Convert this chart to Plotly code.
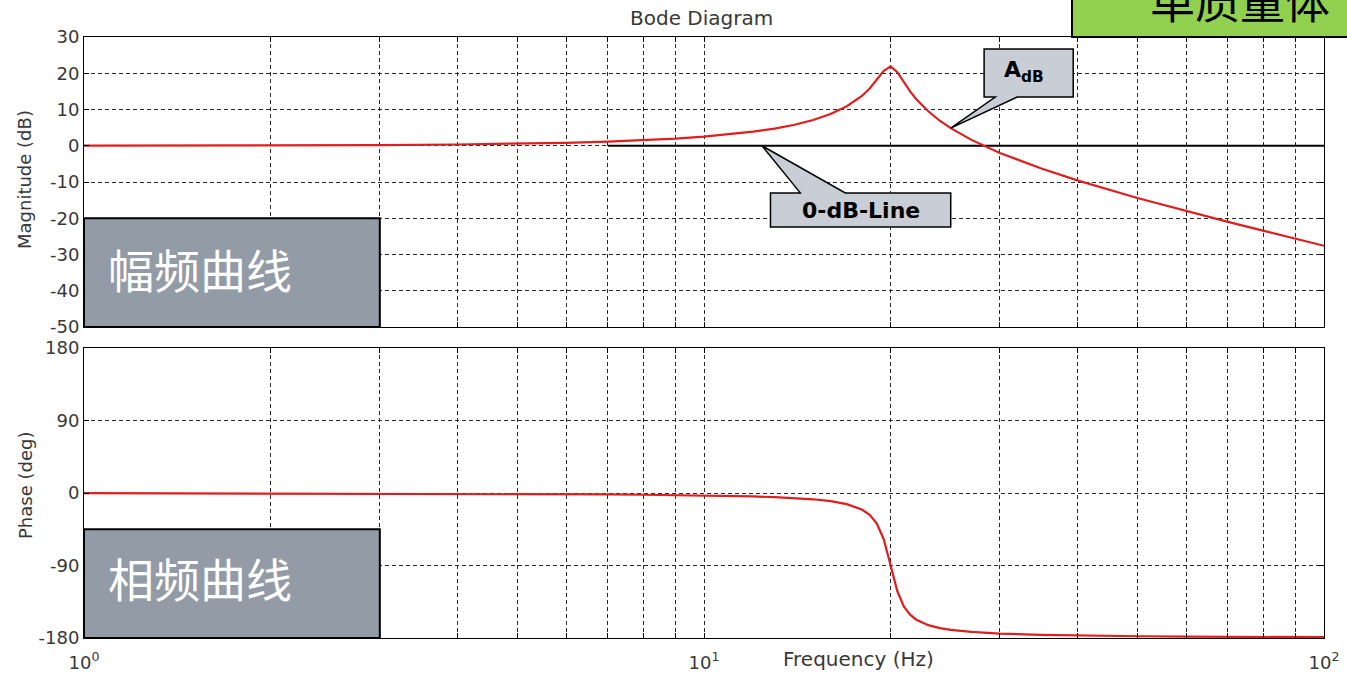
import math
import plotly.graph_objects as go

# Frequency response of a lightly damped single-mass system (values read per frequency)
freq_hz = [1, 1.5, 2, 3, 4, 5, 6, 7, 8, 9, 10, 11, 12, 13, 14, 15, 16, 17, 18, 18.5,
           19, 19.5, 20, 20.5, 21, 21.5, 22, 23, 24, 25, 27, 30, 35, 40, 50, 60, 70, 80, 90, 100]
magnitude_db = [0.02, 0.05, 0.09, 0.2, 0.35, 0.56, 0.82, 1.14, 1.51, 1.97, 2.5, 3.13, 3.88, 4.73,
                5.8, 7.1, 8.74, 10.9, 13.8, 15.8, 18.2, 20.7, 21.9, 20.3, 17.6, 15.0, 12.85, 9.5,
                6.9, 4.87, 1.62, -1.98, -6.29, -9.55, -14.4, -18.06, -21.0, -23.5, -25.7, -27.6]
phase_deg = [-0.2, -0.35, -0.46, -0.7, -0.95, -1.22, -1.5, -1.83, -2.18, -2.58, -3.05, -3.6, -4.3,
             -5.1, -6.3, -7.8, -10.1, -13.8, -20.8, -27.1, -37.9, -57.7, -90, -121.7, -140.7,
             -151.1, -157.3, -164.1, -167.7, -169.9, -172.5, -174.5, -176.1, -176.9, -177.8,
             -178.3, -178.6, -178.8, -178.9, -179.0]

zero_db_line_x = [7, 100]
zero_db_line_y = [0, 0]

mag_ticks = [30, 20, 10, 0, -10, -20, -30, -40, -50]
mag_labels = ["30", "20", "10", "0", "-10", "-20", "-30", "-40", "-50"]
phase_ticks = [180, 90, 0, -90, -180]
phase_labels = ["180", "90", "0", "-90", "-180"]
decade_ticks = [1, 10, 100]
decade_labels = ["10<sup>0</sup>", "10<sup>1</sup>", "10<sup>2</sup>"]
minor_ticks = [2, 3, 4, 5, 6, 7, 8, 9, 20, 30, 40, 50, 60, 70, 80, 90]

RED = "#E01E1E"
GRID = "#2a2a2a"
TEXT = "#383838"
FONT = "DejaVu Sans"
CJK = "Noto Sans CJK SC"
BOX_GRAY = "#939BA6"
CALLOUT_GRAY = "#C9CDD5"

fig = go.Figure()
fig.add_trace(go.Scatter(x=zero_db_line_x, y=zero_db_line_y, mode="lines",
                         line=dict(color="black", width=2), xaxis="x", yaxis="y",
                         showlegend=False, hoverinfo="skip"))
fig.add_trace(go.Scatter(x=freq_hz, y=magnitude_db, mode="lines",
                         line=dict(color=RED, width=2.2), xaxis="x", yaxis="y",
                         showlegend=False))
fig.add_trace(go.Scatter(x=freq_hz, y=phase_deg, mode="lines",
                         line=dict(color=RED, width=2.2), xaxis="x2", yaxis="y2",
                         showlegend=False))

x_dom = [84 / 1347, 1324 / 1347]
top_dom = [1 - 327 / 673, 1 - 37 / 673]
bot_dom = [1 - 638 / 673, 1 - 348 / 673]

common_x = dict(type="log", range=[0, 2], tickmode="array", tickvals=decade_ticks,
                ticktext=decade_labels, showgrid=True, gridcolor=GRID, griddash="4px,3px",
                gridwidth=1, ticks="inside", ticklen=5, tickcolor="black",
                showline=True, linecolor="black", linewidth=1, mirror="ticks",
                zeroline=False, domain=x_dom, automargin=False,
                minor=dict(tickmode="array", tickvals=minor_ticks, showgrid=True,
                           gridcolor=GRID, griddash="4px,3px", gridwidth=1,
                           ticks="inside", ticklen=5, tickcolor="black"),
                tickfont=dict(family=FONT, size=18, color=TEXT))
common_y = dict(showgrid=True, gridcolor=GRID, griddash="4px,3px", gridwidth=1,
                ticks="inside", ticklen=5, tickcolor="black", showline=True,
                linecolor="black", linewidth=1, mirror="ticks", zeroline=False,
                automargin=False, tickfont=dict(family=FONT, size=18, color=TEXT))

fig.update_layout(
    width=1347, height=673, margin=dict(l=0, r=0, t=0, b=0, autoexpand=False),
    paper_bgcolor="white", plot_bgcolor="white", showlegend=False,
    xaxis=dict(common_x, anchor="y", showticklabels=False, matches="x2"),
    xaxis2=dict(common_x, anchor="y2", showticklabels=True, ticklabelstandoff=8),
    yaxis=dict(common_y, domain=top_dom, range=[-50, 30], tickmode="array",
               tickvals=mag_ticks, ticktext=mag_labels, anchor="x"),
    yaxis2=dict(common_y, domain=bot_dom, range=[-180, 180], tickmode="array",
                tickvals=phase_ticks, ticktext=phase_labels, anchor="x2"),
)

shapes = []
annotations = []


def note(**kw):
    kw.setdefault("showarrow", False)
    kw.setdefault("xanchor", "center")
    kw.setdefault("yanchor", "middle")
    annotations.append(kw)


# Label boxes in the lower-left corner of each panel
shapes.append(dict(type="rect", xref="x", yref="y", x0=1, x1=3, y0=-50, y1=-20,
                   fillcolor=BOX_GRAY, line=dict(color="black", width=2), layer="above"))
shapes.append(dict(type="rect", xref="x2", yref="y2", x0=1, x1=3, y0=-180, y1=-45,
                   fillcolor=BOX_GRAY, line=dict(color="black", width=2), layer="above"))
note(xref="x", yref="y", x=math.log10(1.085), y=-33.7, text="幅频曲线", xanchor="left",
     font=dict(family=CJK, size=46, color="white"))
note(xref="x2", yref="y2", x=math.log10(1.085), y=-104, text="相频曲线", xanchor="left",
     font=dict(family=CJK, size=46, color="white"))

# Callout pointing at the magnitude curve
adb_path = ("M 28.3,26.7 L 39.4,26.7 L 39.4,13.45 L 32.0,13.45 L 25,4.87 "
            "L 29.5,13.45 L 28.3,13.45 Z")
shapes.append(dict(type="path", xref="x", yref="y", path=adb_path,
                   fillcolor=CALLOUT_GRAY, line=dict(color="black", width=1.5), layer="above"))
note(xref="x", yref="y", x=1.516, y=20.6, text="<b>A<sub>dB</sub></b>",
     font=dict(family=FONT, size=22, color="black"))

# Callout pointing at the 0 dB reference line
zdb_path = ("M 12.8,-13.0 L 14.3,-13.0 L 12.4,0 L 16.9,-13.0 L 25.0,-13.0 "
            "L 25.0,-22.4 L 12.8,-22.4 Z")
shapes.append(dict(type="path", xref="x", yref="y", path=zdb_path,
                   fillcolor=CALLOUT_GRAY, line=dict(color="black", width=1.5), layer="above"))
note(xref="x", yref="y", x=1.2532, y=-17.9, text="<b>0-dB-Line</b>",
     font=dict(family=FONT, size=22, color="black"))

# Green header tag in the top-right corner
shapes.append(dict(type="rect", xref="paper", yref="paper", x0=1072 / 1347, x1=1.01,
                   y0=1 - 37 / 673, y1=1.05, fillcolor="#92D050",
                   line=dict(color="black", width=2), layer="above"))
note(xref="paper", yref="paper", x=1240 / 1347, y=1 + 1 / 673, text="单质量体",
     font=dict(family=CJK, size=45, color="black"))

# Titles
note(xref="paper", yref="paper", x=702 / 1347, y=1 - 18 / 673, text="Bode Diagram",
     font=dict(family=FONT, size=20, color=TEXT))
note(xref="paper", yref="paper", x=858 / 1347, y=1 - 659 / 673, text="Frequency (Hz)",
     font=dict(family=FONT, size=20, color=TEXT))
note(xref="paper", yref="paper", x=25 / 1347, y=1 - 180 / 673, text="Magnitude (dB)",
     textangle=-90, font=dict(family=FONT, size=18, color=TEXT))
note(xref="paper", yref="paper", x=25 / 1347, y=1 - 486 / 673, text="Phase (deg)",
     textangle=-90, font=dict(family=FONT, size=18, color=TEXT))

fig.update_layout(shapes=shapes, annotations=annotations)
fig.write_html("out.html")
